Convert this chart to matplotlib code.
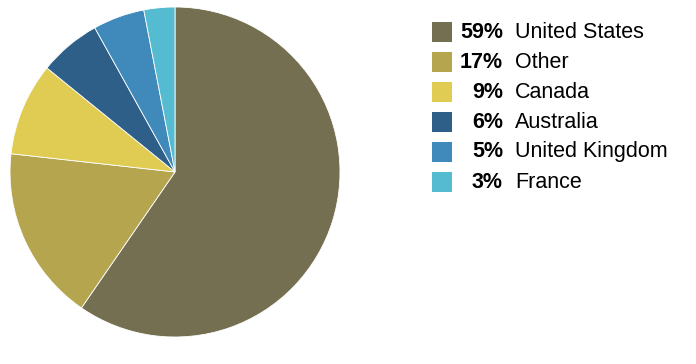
from matplotlib import pyplot as plt
from matplotlib.patches import Rectangle

countries = ["United States", "Other", "Canada", "Australia", "United Kingdom", "France"]
shares = [59, 17, 9, 6, 5, 3]
colors = ["#736F50", "#B5A54F", "#E0CC52", "#2E5F88", "#3F8ABB", "#55BBD0"]

W, H = 696, 364
plt.rcParams['font.family'] = ['Liberation Sans', 'DejaVu Sans']

fig = plt.figure(figsize=(W / 100, H / 100), dpi=100)

# pie: centre (175, 172) px from top-left, radius 165 px
cx, cy, r = 175, 172, 165
ax = fig.add_axes([(cx - r) / W, (H - cy - r) / H, 2 * r / W, 2 * r / H])
ax.pie(shares, colors=colors, startangle=90, counterclock=False,
       wedgeprops=dict(edgecolor="white", linewidth=0.6))
ax.set_xlim(-1, 1)
ax.set_ylim(-1, 1)
ax.axis("off")

# legend drawn by hand
for i, (name, val, col) in enumerate(zip(countries, shares, colors)):
	yc = 32 + 30 * i
	fig.patches.append(Rectangle((432 / W, (H - yc - 10) / H), 20 / W, 20 / H,
	                             transform=fig.transFigure, facecolor=col,
	                             edgecolor="none"))
	fig.text(503 / W, (H - yc) / H, "%d%%" % val, ha="right", va="center",
	         fontsize=15.5, fontweight="bold")
	fig.text(515 / W, (H - yc) / H, name, ha="left", va="center", fontsize=15.5)

fig.savefig("out.png", dpi=100)
